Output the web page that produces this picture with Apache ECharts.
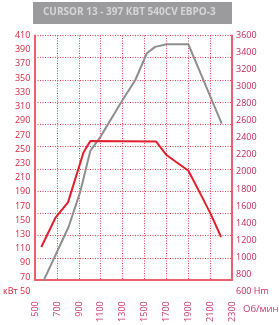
<!DOCTYPE html>
<html><head><meta charset="utf-8">
<script src="https://cdn.jsdelivr.net/npm/echarts@6/dist/echarts.min.js"></script>
<style>html,body{margin:0;padding:0;background:#fff}#c{width:279px;height:325px}</style>
</head><body><div id="c"></div>
<script>
// ---- data ----
const titleText = 'CURSOR 13 - 397 КВТ 540CV ЕВРО-3';
const powerUnit = 'кВт';
const torqueUnit = 'Нm';
const rpmUnit = 'Об/мин';
const rpmRange = [500, 2300, 200];      // min, max, step of tick labels
const powerRange = [50, 410, 20];
const torqueRange = [600, 3600, 200];
const powerRpm = [576, 804, 911, 1003, 1094, 1290, 1414, 1521, 1596, 1703, 1901, 2206];
const powerKw  = [65, 140.5, 190, 247.6, 267, 317, 347, 385, 394, 397.6, 397.6, 286];
const torqueRpm = [555, 683, 799, 941, 1003, 1606, 1697, 1901, 2023, 2108, 2200];
const torqueNm  = [1120, 1460, 1643, 2229, 2362, 2356, 2202, 2014, 1713, 1499, 1237];

const pair = (xs, ys) => xs.map((x, i) => [x, ys[i]]);
const FONT = '"Open Sans", sans-serif';
const frameColor = '#ee5f6b';
const gridColor = '#e9414d';

const chart = echarts.init(document.getElementById('c'), null, {renderer: 'canvas'});
chart.setOption({
  animation: false,
  backgroundColor: '#fff',
  grid: [
    {left: 35, right: 47, top: 35.5, bottom: 33.7},
    {left: 35, right: 47, top: 35.5, bottom: 45}
  ],
  xAxis: [
    {gridIndex: 0, type: 'value', min: rpmRange[0], max: rpmRange[1], interval: rpmRange[2],
     axisLine: {show: false}, axisTick: {show: false}, splitLine: {show: false},
     axisLabel: {rotate: 90, margin: 10, fontSize: 9, fontFamily: FONT, color: '#c93a6e',
       formatter: v => String(v)}},
    {gridIndex: 1, type: 'value', position: 'top', min: rpmRange[0], max: rpmRange[1], interval: rpmRange[2],
     axisLine: {show: true, lineStyle: {color: frameColor, width: 2}}, axisTick: {show: false},
     axisLabel: {show: false},
     splitLine: {show: true, lineStyle: {color: gridColor, width: 1, type: [1, 1.5]}}}
  ],
  yAxis: [
    {gridIndex: 0, type: 'value', position: 'left', min: powerRange[0], max: powerRange[1], interval: powerRange[2],
     axisLine: {show: false}, axisTick: {show: false}, splitLine: {show: false},
     axisLabel: {margin: 5, fontSize: 9, fontFamily: FONT, color: '#d8283f',
       formatter: v => v === powerRange[0] ? powerUnit + ' ' + v : String(v)}},
    {gridIndex: 0, type: 'value', position: 'right', min: torqueRange[0], max: torqueRange[1], interval: torqueRange[2],
     axisLine: {show: false}, axisTick: {show: false}, splitLine: {show: false},
     axisLabel: {margin: 4, fontSize: 9, fontFamily: FONT, color: '#c42a5a',
       formatter: v => v === torqueRange[0] ? v + ' ' + torqueUnit : String(v)}},
    {gridIndex: 1, type: 'value', position: 'left', min: 0, max: 11, interval: 1,
     axisLine: {show: true, lineStyle: {color: frameColor, width: 2}}, axisTick: {show: false},
     axisLabel: {show: false},
     splitLine: {show: true, lineStyle: {color: gridColor, width: 1, type: [1, 1.5]}}},
    {gridIndex: 1, type: 'value', position: 'right', min: 0, max: 11, interval: 1,
     axisLine: {show: true, lineStyle: {color: frameColor, width: 2}}, axisTick: {show: false},
     axisLabel: {show: false}, splitLine: {show: false}}
  ],
  graphic: [
    {type: 'rect', left: 33, top: 2, shape: {width: 199, height: 22}, style: {fill: '#9b9b9d'}},
    {type: 'text', left: 43, top: 7, style: {text: titleText, fill: '#d6d6d6',
      font: 'bold 10px "Open Sans", sans-serif'}},
    {type: 'text', left: 243, top: 304, style: {text: rpmUnit, fill: '#c93a6e', font: '9.5px "Open Sans", sans-serif'}}
  ],
  series: [
    {type: 'line', xAxisIndex: 0, yAxisIndex: 0, data: pair(powerRpm, powerKw), showSymbol: false, symbol: 'none',
     lineStyle: {color: '#8e8e8e', width: 2}, z: 3},
    {type: 'line', xAxisIndex: 0, yAxisIndex: 1, data: pair(torqueRpm, torqueNm), showSymbol: false, symbol: 'none',
     lineStyle: {color: '#e1202e', width: 2}, z: 4}
  ]
});
</script></body></html>
